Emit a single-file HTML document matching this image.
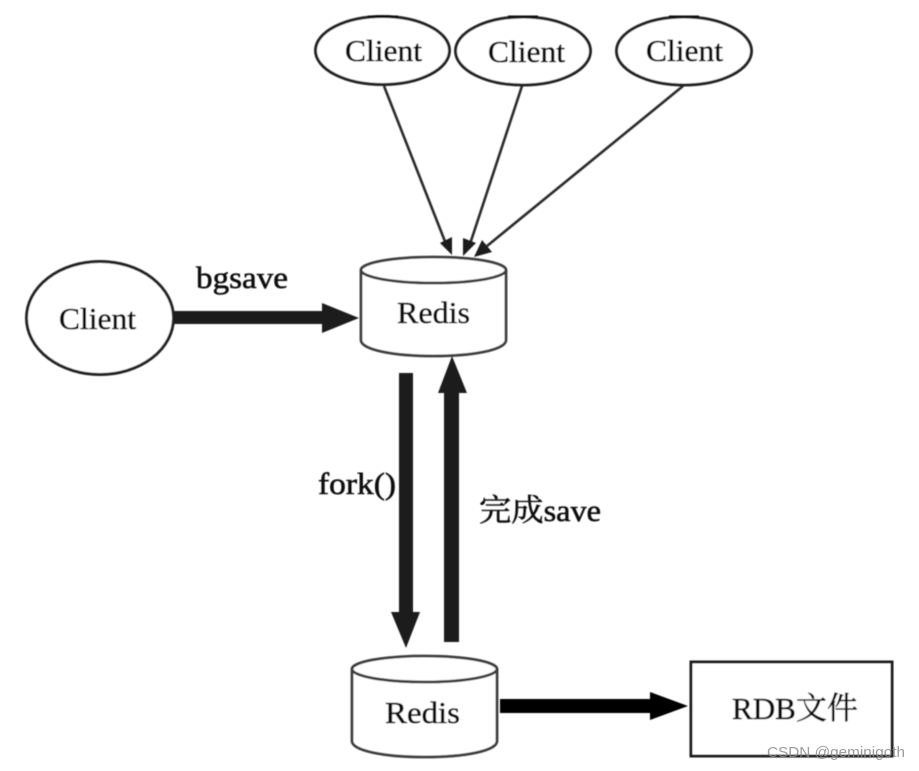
<!DOCTYPE html>
<html>
<head>
<meta charset="utf-8">
<style>
html,body{margin:0;padding:0;background:#fff;width:919px;height:771px;overflow:hidden}
svg{display:block}
text{font-family:"Liberation Serif","Noto Serif CJK SC",serif;fill:#111;stroke:#111;stroke-width:.55px}
</style>
</head>
<body>
<svg width="919" height="771" viewBox="0 0 919 771" xmlns="http://www.w3.org/2000/svg">
<defs><filter id="b" x="-5%" y="-5%" width="110%" height="110%"><feGaussianBlur stdDeviation="0.45"/></filter></defs>
<rect width="919" height="771" fill="#fff"/>
<g filter="url(#b)">
  <!-- Top clients -->
  <g fill="#fff" stroke="#222" stroke-width="3">
    <ellipse cx="382.5" cy="50.5" rx="67" ry="34"/>
    <ellipse cx="523" cy="51" rx="67.5" ry="34"/>
    <ellipse cx="684" cy="51" rx="67.5" ry="34"/>
    <ellipse cx="100" cy="318" rx="73.5" ry="56.5"/>
  </g>
  <g stroke="#111" stroke-width="2" fill="none">
    <line x1="368" y1="16.500" x2="398" y2="16.500"/>
    <line x1="508" y1="16.500" x2="538" y2="16.500"/>
    <line x1="669" y1="16.500" x2="699" y2="16.500"/>
  </g>
  <!-- Thin connectors -->
  <g stroke="#2a2a2a" stroke-width="2.6" fill="none">
    <line x1="384" y1="86" x2="446" y2="244"/>
    <line x1="522" y1="86" x2="470" y2="244"/>
    <line x1="683" y1="86" x2="487" y2="246"/>
  </g>
  <g fill="#1c1c1c">
    <polygon points="452,255 440,243 452,237"/>
    <polygon points="463,256 463,238 476,243"/>
    <polygon points="474,257 482,240 492,252"/>
  </g>
  <!-- Redis top -->
  <g fill="#fff" stroke="#3c3c3c" stroke-width="2.8">
    <path d="M361,270 V340 C361,350 395,356 433.500,356 C472,356 506,350 506,340 V270"/>
    <ellipse cx="433.500" cy="270" rx="72.500" ry="13"/>
  </g>
  <!-- Redis bottom -->
  <g fill="#fff" stroke="#3c3c3c" stroke-width="2.8">
    <path d="M352,669 V741 C352,751 386,757 425,757 C464,757 497,751 497,741 V669"/>
    <ellipse cx="424.500" cy="669" rx="72.500" ry="13"/>
  </g>
  <!-- Thick arrows -->
  <g fill="#1c1c1c">
    <polygon points="174,311 322,311 322,303 359,318 322,333 322,324 174,324"/>
    <polygon points="399,373 413,373 413,612 420,612 406,648 391,612 399,612"/>
    <polygon points="444,642 459,642 459,393 467,393 452,356 438,393 444,393"/>
  </g>
  <polygon fill="#000" points="500,699 650,699 650,692 688,706 650,720 650,713 500,713"/>
  <!-- RDB box -->
  <rect x="691" y="662" width="201" height="94" fill="#fff" stroke="#1a1a1a" stroke-width="3"/>
  <!-- Text -->
  <g font-size="31">
    <text x="345" y="61" textLength="77" lengthAdjust="spacingAndGlyphs">Client</text>
    <text x="488" y="62" textLength="77" lengthAdjust="spacingAndGlyphs">Client</text>
    <text x="646" y="61" textLength="77" lengthAdjust="spacingAndGlyphs">Client</text>
    <text x="59" y="329" textLength="77" lengthAdjust="spacingAndGlyphs">Client</text>
    <text x="397" y="323" textLength="73" lengthAdjust="spacingAndGlyphs">Redis</text>
    <text x="385" y="723" textLength="75" lengthAdjust="spacingAndGlyphs">Redis</text>
    <text x="196" y="288" textLength="92" lengthAdjust="spacingAndGlyphs">bgsave</text>
    <text x="318" y="494" textLength="78" lengthAdjust="spacingAndGlyphs">fork()</text>
    <text x="479" y="521" textLength="122" lengthAdjust="spacingAndGlyphs">完成save</text>
    <text x="732" y="719" textLength="126" lengthAdjust="spacingAndGlyphs">RDB文件</text>
  </g>
</g>
<text x="767" y="757" font-size="14.500" textLength="138" lengthAdjust="spacingAndGlyphs" style="font-family:'Liberation Sans',sans-serif;fill:#8a8a8a;fill-opacity:.85;stroke:none">CSDN @geminigoth</text>
</svg>
</body>
</html>
